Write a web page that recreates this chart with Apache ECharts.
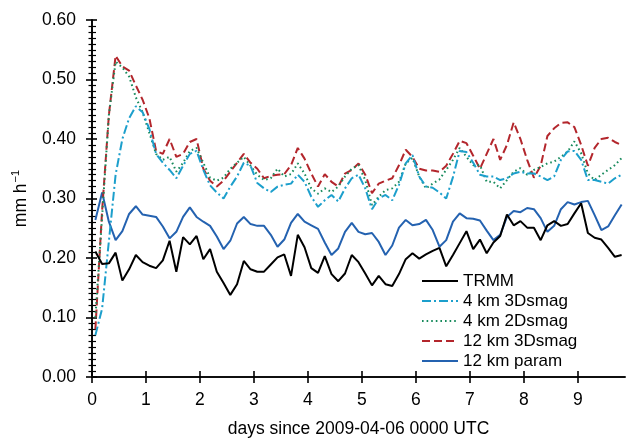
<!DOCTYPE html>
<html>
<head>
<meta charset="utf-8">
<title>Precipitation rate time series</title>
<script src="https://cdn.jsdelivr.net/npm/echarts@6/dist/echarts.min.js"></script>
<style>
  html, body { margin: 0; padding: 0; background: #fff; }
  #chart { width: 630px; height: 438px; }
</style>
</head>
<body>
<div id="chart"></div>
<script>
// 3-hourly samples, centred in each 3 h window (days since 2009-04-06 00 UTC)
const startDay = 0.0625;
const stepDay = 0.125;

const xTicks = [0, 1, 2, 3, 4, 5, 6, 7, 8, 9];
const yTicks = [0, 0.1, 0.2, 0.3, 0.4, 0.5, 0.6];

const seriesNames = ['TRMM', '4 km 3Dsmag', '4 km 2Dsmag', '12 km 3Dsmag', '12 km param'];

// domain-mean rain rate, mm h-1
const trmm = [
  0.211, 0.190, 0.191, 0.209, 0.162, 0.181, 0.205, 0.193, 0.187, 0.183,
  0.196, 0.229, 0.177, 0.235, 0.223, 0.237, 0.198, 0.215, 0.177, 0.158,
  0.138, 0.156, 0.195, 0.181, 0.177, 0.177, 0.189, 0.201, 0.206, 0.170,
  0.239, 0.218, 0.183, 0.175, 0.203, 0.173, 0.161, 0.174, 0.205, 0.193,
  0.174, 0.154, 0.170, 0.156, 0.153, 0.173, 0.198, 0.208, 0.199, 0.206,
  0.212, 0.217, 0.186, 0.205, 0.225, 0.245, 0.215, 0.231, 0.208, 0.226,
  0.237, 0.273, 0.255, 0.262, 0.251, 0.251, 0.230, 0.255, 0.262, 0.254,
  0.257, 0.275, 0.292, 0.242, 0.234, 0.231, 0.217, 0.202, 0.205
];

const km4Smag3D = [
  0.070, 0.115, 0.228, 0.340, 0.400, 0.435, 0.455, 0.445, 0.417, 0.375,
  0.360, 0.348, 0.334, 0.355, 0.375, 0.380, 0.348, 0.322, 0.310, 0.300,
  0.320, 0.337, 0.360, 0.355, 0.326, 0.317, 0.311, 0.320, 0.323, 0.325,
  0.340, 0.328, 0.303, 0.286, 0.297, 0.306, 0.295, 0.317, 0.334, 0.340,
  0.317, 0.282, 0.300, 0.306, 0.297, 0.323, 0.359, 0.373, 0.337, 0.320,
  0.318, 0.310, 0.300, 0.336, 0.380, 0.378, 0.360, 0.340, 0.337, 0.337,
  0.331, 0.334, 0.342, 0.345, 0.342, 0.342, 0.337, 0.331, 0.337, 0.365,
  0.379, 0.380, 0.365, 0.331, 0.331, 0.328, 0.325, 0.334, 0.340
];

const km4Smag2D = [
  0.100, 0.270, 0.440, 0.530, 0.520, 0.505, 0.470, 0.445, 0.410, 0.375,
  0.365, 0.370, 0.345, 0.360, 0.380, 0.385, 0.360, 0.335, 0.330, 0.335,
  0.350, 0.360, 0.370, 0.355, 0.340, 0.331, 0.334, 0.350, 0.337, 0.341,
  0.359, 0.342, 0.317, 0.308, 0.317, 0.311, 0.320, 0.337, 0.350, 0.356,
  0.331, 0.289, 0.303, 0.314, 0.317, 0.328, 0.359, 0.368, 0.337, 0.317,
  0.325, 0.332, 0.348, 0.365, 0.385, 0.370, 0.356, 0.356, 0.328, 0.328,
  0.317, 0.331, 0.345, 0.351, 0.340, 0.348, 0.353, 0.359, 0.362, 0.370,
  0.379, 0.396, 0.376, 0.342, 0.331, 0.340, 0.348, 0.356, 0.368
];

const km12Smag3D = [
  0.080, 0.280, 0.440, 0.540, 0.522, 0.515, 0.490, 0.466, 0.435, 0.380,
  0.375, 0.400, 0.370, 0.375, 0.395, 0.400, 0.350, 0.330, 0.320, 0.330,
  0.345, 0.360, 0.375, 0.360, 0.350, 0.334, 0.338, 0.340, 0.341, 0.356,
  0.385, 0.367, 0.342, 0.320, 0.341, 0.328, 0.320, 0.342, 0.348, 0.359,
  0.340, 0.309, 0.325, 0.330, 0.334, 0.356, 0.382, 0.370, 0.350, 0.347,
  0.347, 0.345, 0.355, 0.375, 0.397, 0.393, 0.372, 0.350, 0.375, 0.400,
  0.365, 0.390, 0.428, 0.400, 0.365, 0.335, 0.355, 0.405, 0.418, 0.427,
  0.428, 0.420, 0.390, 0.355, 0.385, 0.400, 0.402, 0.395, 0.390
];

const km12Param = [
  0.264, 0.310, 0.261, 0.230, 0.245, 0.274, 0.287, 0.273, 0.271, 0.269,
  0.253, 0.233, 0.244, 0.269, 0.285, 0.269, 0.261, 0.254, 0.236, 0.215,
  0.229, 0.258, 0.269, 0.257, 0.254, 0.254, 0.239, 0.219, 0.231, 0.259,
  0.274, 0.261, 0.255, 0.249, 0.226, 0.205, 0.216, 0.244, 0.259, 0.244,
  0.240, 0.242, 0.227, 0.205, 0.221, 0.251, 0.264, 0.255, 0.257, 0.264,
  0.247, 0.219, 0.230, 0.261, 0.275, 0.267, 0.266, 0.263, 0.246, 0.230,
  0.239, 0.269, 0.279, 0.277, 0.284, 0.282, 0.267, 0.244, 0.254, 0.282,
  0.294, 0.290, 0.294, 0.296, 0.272, 0.247, 0.253, 0.272, 0.290
];

const FONT = '"Liberation Sans", Arial, Helvetica, sans-serif';

function pairs(values) {
  return values.map((v, i) => [startDay + stepDay * i, v]);
}

const lineDefs = [
  { data: trmm,       color: '#000000', type: 'solid' },
  { data: km4Smag3D,  color: '#1c9fcc', type: [9, 3, 2, 3] },
  { data: km4Smag2D,  color: '#178a5c', type: [1.6, 3] },
  { data: km12Smag3D, color: '#b3262c', type: [8, 4] },
  { data: km12Param,  color: '#2462b0', type: 'solid' }
];

const xMax = startDay + stepDay * (trmm.length - 1) + startDay;

const axisLine = { show: true, lineStyle: { color: '#000', width: 1.6 } };

const chart = echarts.init(document.getElementById('chart'), null, { renderer: 'canvas' });

chart.setOption({
  animation: false,
  backgroundColor: '#ffffff',
  grid: { left: 92, right: 5, top: 20, bottom: 61, containLabel: false, outerBoundsMode: 'none' },
  legend: {
    left: 421,
    top: 271,
    padding: 0,
    orient: 'vertical',
    itemWidth: 36,
    itemHeight: 14,
    itemGap: 0,
    data: seriesNames,
    itemStyle: { opacity: 0 },
    textStyle: { fontFamily: FONT, fontSize: 17, color: '#000', lineHeight: 20 }
  },
  xAxis: [
    {
      type: 'value', position: 'bottom', min: 0, max: xMax,
      name: 'days since 2009-04-06 0000 UTC',
      nameLocation: 'middle', nameGap: 43,
      nameTextStyle: { fontFamily: FONT, fontSize: 17.5, color: '#000' },
      axisLine: axisLine,
      axisTick: { show: true, inside: false, length: 6, customValues: xTicks,
                  lineStyle: { color: '#000', width: 1.6 } },
      axisLabel: { show: true, customValues: xTicks, margin: 14,
                   fontFamily: FONT, fontSize: 17.5, color: '#000' },
      splitLine: { show: false }
    },
    {
      type: 'value', position: 'top', min: 0, max: xMax,
      axisLine: axisLine,
      axisTick: { show: true, inside: false, length: 6, customValues: xTicks,
                  lineStyle: { color: '#000', width: 1.6 } },
      axisLabel: { show: false },
      splitLine: { show: false }
    }
  ],
  yAxis: [
    {
      type: 'value', position: 'left', min: 0, max: 0.6, interval: 0.1,
      name: '{a|mm h}{b|\u22121}',
      nameLocation: 'middle', nameGap: 58, nameRotate: 90,
      nameTextStyle: {
        fontFamily: FONT, color: '#000',
        rich: {
          a: { fontFamily: FONT, fontSize: 17.5, color: '#000', lineHeight: 22 },
          b: { fontFamily: FONT, fontSize: 11, color: '#000', lineHeight: 22, verticalAlign: 'top', padding: [0, 0, 10, 1] }
        }
      },
      axisLine: axisLine,
      axisTick: { show: true, inside: false, length: 6, lineStyle: { color: '#000', width: 1.6 } },
      minorTick: { show: true, splitNumber: 10, length: 3.5, lineStyle: { color: '#000', width: 1.2 } },
      axisLabel: { show: true, margin: 16, fontFamily: FONT, fontSize: 17.5, color: '#000',
                   formatter: v => v.toFixed(2), customValues: yTicks },
      splitLine: { show: false },
      minorSplitLine: { show: false }
    },
    {
      type: 'value', position: 'right', min: 0, max: 0.6, interval: 0.1,
      axisLine: axisLine,
      axisTick: { show: true, inside: false, length: 5, lineStyle: { color: '#000', width: 1.6 } },
      minorTick: { show: true, splitNumber: 10, length: 4, lineStyle: { color: '#000', width: 1.2 } },
      axisLabel: { show: false },
      splitLine: { show: false }
    }
  ],
  series: lineDefs.map((d, k) => ({
    name: seriesNames[k],
    type: 'line',
    xAxisIndex: 0,
    yAxisIndex: 0,
    data: pairs(d.data),
    showSymbol: false,
    symbol: 'none',
    smooth: false,
    z: 10 - k,
    lineStyle: { color: d.color, width: 2, type: d.type },
    itemStyle: { color: d.color }
  }))
});
</script>
</body>
</html>
